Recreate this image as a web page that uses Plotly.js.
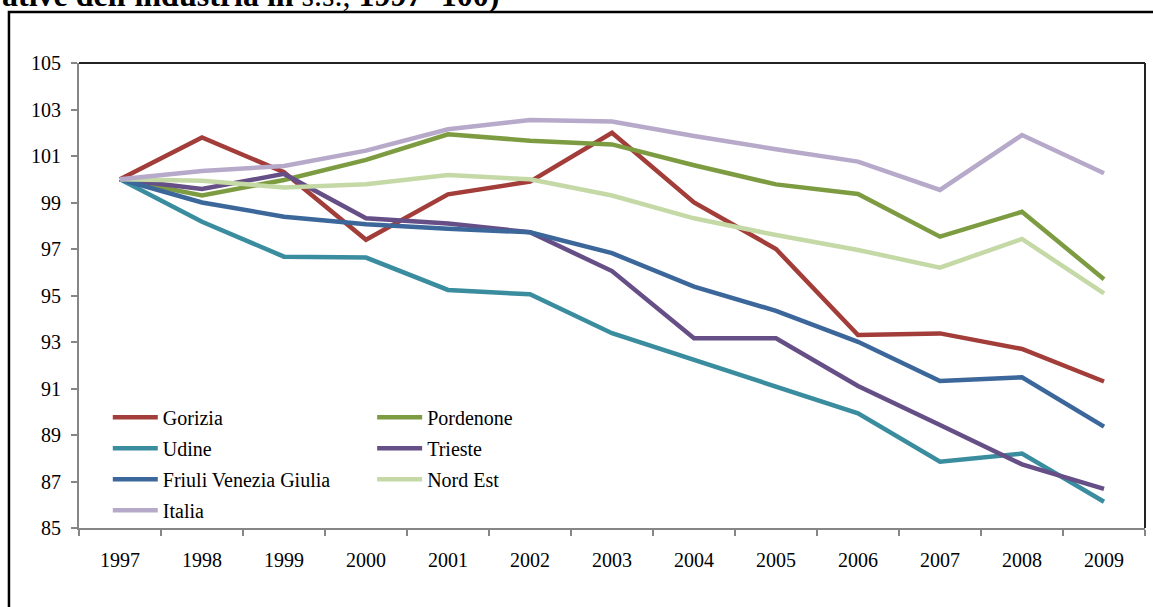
<!DOCTYPE html>
<html>
<head>
<meta charset="utf-8">
<script src="https://cdn.plot.ly/plotly-3.0.1.min.js"></script>
<style>
  html, body { margin: 0; padding: 0; background: #fff; }
  #chart { width: 1153px; height: 607px; }
</style>
</head>
<body>
<div id="chart"></div>
<script>
// Unità locali attive dell'industria in senso stretto, indice 1997 = 100
const years = ['1997','1998','1999','2000','2001','2002','2003','2004','2005','2006','2007','2008','2009'];

const gorizia   = [100, 101.8, 100.3, 97.4, 99.35, 99.9, 102.0, 99.0, 97.0, 93.3, 93.37, 92.7, 91.3];
const pordenone = [100, 99.3, 99.97, 100.83, 101.93, 101.66, 101.5, 100.6, 99.78, 99.37, 97.53, 98.6, 95.7];
const udine     = [100, 98.17, 96.67, 96.63, 95.24, 95.05, 93.38, 92.22, 91.09, 89.93, 87.85, 88.2, 86.13];
const trieste   = [100, 99.58, 100.23, 98.32, 98.1, 97.72, 96.05, 93.16, 93.16, 91.11, 89.43, 87.74, 86.68];
const fvg       = [100, 99.0, 98.39, 98.06, 97.87, 97.72, 96.82, 95.38, 94.34, 93.01, 91.32, 91.48, 89.36];
const nordEst   = [100, 99.94, 99.65, 99.78, 100.18, 100.0, 99.3, 98.32, 97.6, 96.96, 96.2, 97.43, 95.09];
const italia    = [100, 100.35, 100.57, 101.23, 102.15, 102.55, 102.48, 101.86, 101.29, 100.76, 99.54, 101.9, 100.26];

const yTicks = [85, 87, 89, 91, 93, 95, 97, 99, 101, 103, 105];

const serif = 'Liberation Serif, Times New Roman, serif';

// series: [name, values, colour, legend column]
const series = [
  ['Gorizia', gorizia, '#A23D39', 'legend'],
  ['Pordenone', pordenone, '#7D9C41', 'legend2'],
  ['Udine', udine, '#3A8C9F', 'legend'],
  ['Trieste', trieste, '#654F86', 'legend2'],
  ['Friuli Venezia Giulia', fvg, '#3C679B', 'legend'],
  ['Nord Est', nordEst, '#C5D9A7', 'legend2'],
  ['Italia', italia, '#B7A9CA', 'legend']
];

const traces = series.map(function (s, i) {
  return {
    type: 'scatter',
    mode: 'lines',
    name: s[0],
    x: years,
    y: s[1],
    line: { color: s[2], width: 4.5 },
    legend: s[3],
    legendgroup: 'g' + i,
    hoverinfo: 'x+y+name'
  };
});

const axisGray = '#868686';

const legendCommon = {
  font: { family: serif, size: 20, color: '#000' },
  bgcolor: 'rgba(0,0,0,0)',
  borderwidth: 0,
  tracegroupgap: 2,
  itemwidth: 45,
  xanchor: 'left',
  yanchor: 'top',
  orientation: 'v'
};

const layout = {
  width: 1153,
  height: 607,
  margin: { l: 79, r: 8, t: 63, b: 79 },
  paper_bgcolor: '#ffffff',
  plot_bgcolor: '#ffffff',
  showlegend: true,
  legend: Object.assign({}, legendCommon, { x: 0.027, y: 0.28 }),
  legend2: Object.assign({}, legendCommon, { x: 0.275, y: 0.28 }),
  xaxis: {
    type: 'category',
    range: [-0.5, 12.5],
    showgrid: false,
    zeroline: false,
    showline: true,
    linecolor: axisGray,
    linewidth: 2,
    ticks: 'outside',
    tickson: 'boundaries',
    ticklen: 6,
    tickwidth: 1.5,
    tickcolor: axisGray,
    ticklabelstandoff: 13,
    tickfont: { family: serif, size: 20, color: '#000' },
    fixedrange: true
  },
  yaxis: {
    range: [85, 105],
    tickvals: yTicks,
    ticktext: yTicks.map(String),
    showgrid: false,
    zeroline: false,
    showline: true,
    linecolor: axisGray,
    linewidth: 2,
    ticks: 'outside',
    ticklen: 6,
    tickwidth: 1.5,
    tickcolor: axisGray,
    ticklabelstandoff: 6,
    tickfont: { family: serif, size: 20, color: '#000' },
    fixedrange: true
  },
  shapes: [
    // plot area frame, top and right sides
    { type: 'line', xref: 'paper', yref: 'paper', x0: 0, x1: 1, y0: 1, y1: 1,
      line: { color: '#222', width: 2 } },
    { type: 'line', xref: 'paper', yref: 'paper', x0: 1, x1: 1, y0: 0, y1: 1,
      line: { color: '#222', width: 2 } },
    // outer chart frame
    { type: 'rect', xref: 'paper', yref: 'paper',
      x0: -0.0657, x1: 1.02, y0: -0.2, y1: 1.1097,
      line: { color: '#000', width: 2.5 }, fillcolor: 'rgba(0,0,0,0)' }
  ],
  annotations: [
    {
      xref: 'paper', yref: 'paper',
      x: -0.0745, y: 1.104,
      xanchor: 'left', yanchor: 'bottom',
      showarrow: false,
      align: 'left',
      font: { family: serif, size: 32, color: '#000' },
      text: "<b>ative dell'industria in </b>s.s., <b>1997=100)</b>"
    }
  ]
};

Plotly.newPlot('chart', traces, layout, { displayModeBar: false, staticPlot: false });
</script>
</body>
</html>
